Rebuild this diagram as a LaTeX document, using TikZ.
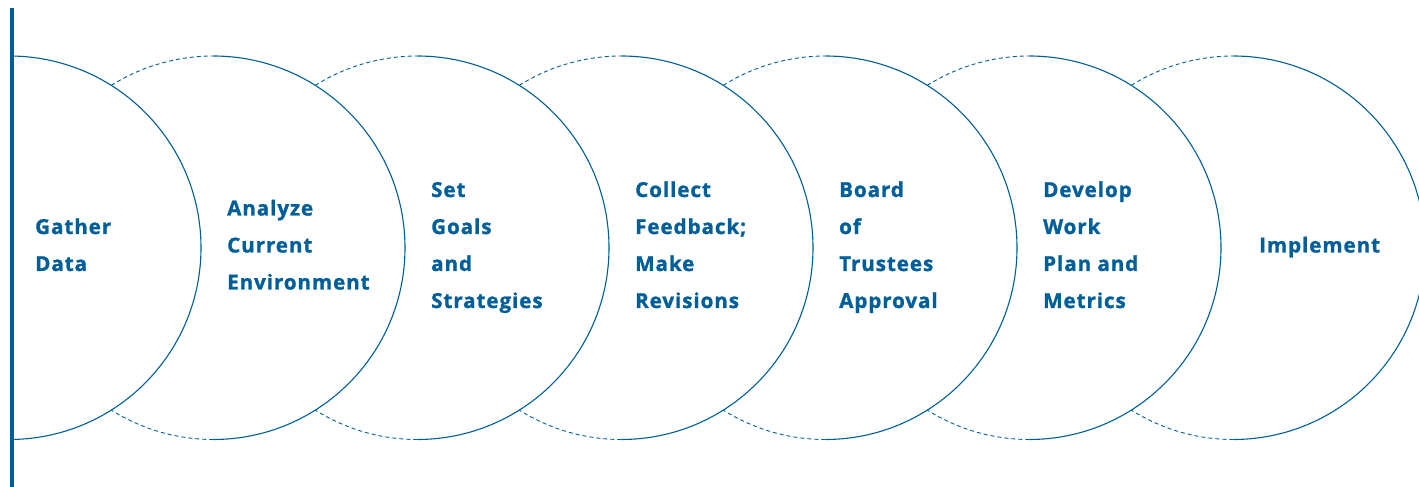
\documentclass[tikz,border=0pt]{standalone}
\usepackage{fontspec}
\newfontfamily\stepfont[LetterSpace=4.5, BoldFeatures={FakeBold=1.2}]{Open Sans}
\definecolor{stepblue}{HTML}{005E98}

\tikzset{
  ring/.style={stepblue, line width=1.1pt},
  ringdash/.style={stepblue, line width=0.9pt, dash pattern=on 4pt off 3pt},
  steptext/.style={text=stepblue, font=\stepfont\bfseries\fontsize{20.6}{37}\selectfont,
                   align=left, anchor=base west, inner sep=0pt}
}

\begin{document}
\begin{tikzpicture}[x=1pt,y=1pt]
  \useasboundingbox (0,0) rectangle (1419,487);

  % Centres of the rings
  \foreach \i in {1,...,7}
    \coordinate (c\i) at ({9.25+204*(\i-1)},239.25);

  % Solid right halves
  \draw[ring] ([shift={(89:191.75)}]c1) arc[start angle=89, end angle=-89, radius=191.75];
  \foreach \i in {2,...,7}
    \draw[ring] ([shift={(90:191.75)}]c\i) arc[start angle=90, end angle=-90, radius=191.75];

  % Dashed parts back to the previous ring
  \foreach \i in {2,...,7}{
    \draw[ringdash] ([shift={(122.13:191.75)}]c\i) arc[start angle=122.13, end angle=90, radius=191.75];
    \draw[ringdash] ([shift={(-90:191.75)}]c\i) arc[start angle=-90, end angle=-122.13, radius=191.75];
  }

  % Left bar
  \coordinate (bartop) at (12,479);
  \coordinate (barbot) at (12,0);
  \draw[stepblue, line width=4pt] (bartop) -- (barbot);

  % Steps (anchored at the last baseline)
  \node[steptext] (step1) at (35,216)     {Gather\\Data};
  \node[steptext] (step2) at (227,197.5)  {Analyze\\Current\\Environment};
  \node[steptext] (step3) at (431,179)    {Set\\Goals\\and\\Strategies};
  \node[steptext] (step4) at (635,179)    {Collect\\Feedback;\\Make\\Revisions};
  \node[steptext] (step5) at (839,179)    {Board\\of\\Trustees\\Approval};
  \node[steptext] (step6) at (1043,179)   {Develop\\Work\\Plan and\\Metrics};
  \node[steptext] (step7) at (1259,234.5) {Implement};
\end{tikzpicture}
\end{document}
